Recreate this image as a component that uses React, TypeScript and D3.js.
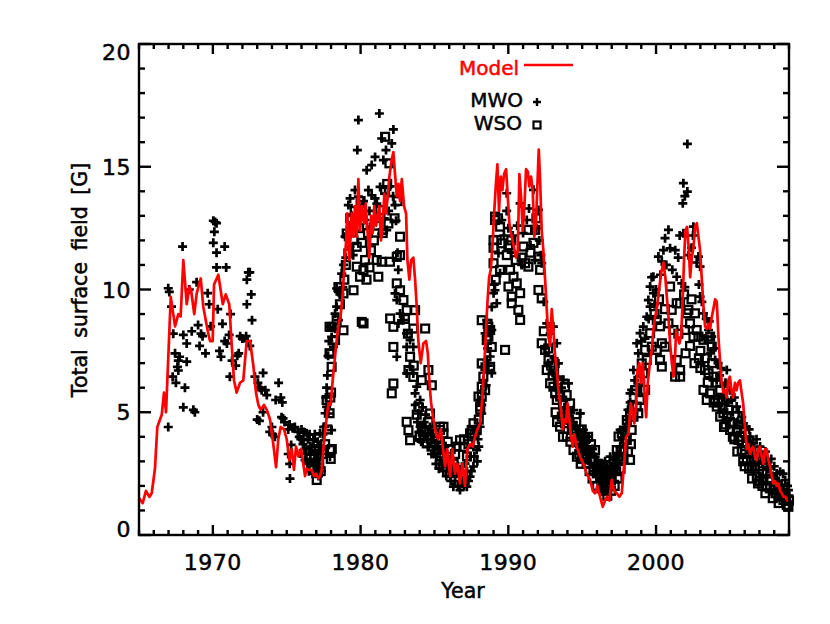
import React from "react";
import * as d3 from "d3";

const xDomain: [number, number] = [1965, 2009];
const yDomain: [number, number] = [0, 20];
const xMajorTicks = [1970, 1980, 1990, 2000];
const yMajorTicks = [0, 5, 10, 15, 20];
const xLabel = "Year";
const yLabel = "Total surface field [G]";
const legendLabels = ["Model", "MWO", "WSO"];

const modelYear = [
  1965.0, 1965.25, 1965.47, 1965.7, 1965.86, 1966.08, 1966.24, 1966.54, 1966.69, 1966.83,
  1967.15, 1967.44, 1967.66, 1967.82, 1968.0, 1968.23, 1968.41, 1968.52, 1968.74, 1968.91,
  1969.18, 1969.35, 1969.69, 1969.81, 1969.99, 1970.08, 1970.37, 1970.67, 1970.87, 1971.11,
  1971.28, 1971.43, 1971.61, 1971.84, 1972.06, 1972.29, 1972.52, 1972.74, 1972.92, 1973.08,
  1973.24, 1973.46, 1973.65, 1973.87, 1974.09, 1974.28, 1974.43, 1974.59, 1974.82, 1975.0,
  1975.18, 1975.34, 1975.49, 1975.63, 1975.79, 1975.97, 1976.12, 1976.24, 1976.35, 1976.53,
  1976.69, 1976.85, 1976.98, 1977.14, 1977.25, 1977.37, 1977.48, 1977.66, 1977.82, 1977.98,
  1978.11, 1978.34, 1978.49, 1978.66, 1978.79, 1978.9, 1979.01, 1979.1, 1979.24, 1979.4,
  1979.51, 1979.62, 1979.74, 1979.85, 1979.96, 1980.1, 1980.23, 1980.35, 1980.48, 1980.59,
  1980.71, 1980.82, 1980.93, 1981.05, 1981.16, 1981.27, 1981.38, 1981.5, 1981.61, 1981.72,
  1981.84, 1981.95, 1982.11, 1982.22, 1982.33, 1982.45, 1982.56, 1982.67, 1982.79, 1982.94,
  1983.08, 1983.17, 1983.3, 1983.42, 1983.57, 1983.69, 1983.8, 1983.91, 1984.07, 1984.25,
  1984.43, 1984.55, 1984.65, 1984.77, 1984.93, 1985.11, 1985.26, 1985.43, 1985.56, 1985.72,
  1985.87, 1986.06, 1986.21, 1986.39, 1986.55, 1986.73, 1986.89, 1987.07, 1987.23, 1987.41,
  1987.59, 1987.75, 1987.91, 1988.09, 1988.24, 1988.38, 1988.49, 1988.58, 1988.7, 1988.81,
  1988.92, 1989.04, 1989.15, 1989.26, 1989.37, 1989.49, 1989.6, 1989.71, 1989.85, 1989.96,
  1990.07, 1990.23, 1990.39, 1990.52, 1990.64, 1990.75, 1990.86, 1990.98, 1991.09, 1991.2,
  1991.32, 1991.42, 1991.54, 1991.65, 1991.76, 1991.88, 1991.97, 1992.06, 1992.15, 1992.26,
  1992.37, 1992.49, 1992.6, 1992.71, 1992.83, 1992.94, 1993.05, 1993.17, 1993.28, 1993.39,
  1993.55, 1993.69, 1993.79, 1993.91, 1994.02, 1994.13, 1994.25, 1994.36, 1994.47, 1994.63,
  1994.86, 1995.08, 1995.31, 1995.54, 1995.72, 1995.87, 1996.03, 1996.21, 1996.39, 1996.55,
  1996.67, 1996.84, 1997.0, 1997.16, 1997.34, 1997.52, 1997.68, 1997.84, 1997.97, 1998.13,
  1998.29, 1998.43, 1998.53, 1998.65, 1998.74, 1998.87, 1998.97, 1999.1, 1999.21, 1999.33,
  1999.44, 1999.6, 1999.71, 1999.82, 1999.94, 2000.05, 2000.21, 2000.34, 2000.5, 2000.63,
  2000.73, 2000.84, 2000.95, 2001.07, 2001.18, 2001.29, 2001.36, 2001.45, 2001.58, 2001.7,
  2001.81, 2001.9, 2001.99, 2002.1, 2002.22, 2002.31, 2002.42, 2002.53, 2002.64, 2002.76,
  2002.87, 2002.98, 2003.1, 2003.2, 2003.32, 2003.43, 2003.55, 2003.66, 2003.78, 2003.88,
  2004.0, 2004.11, 2004.22, 2004.34, 2004.45, 2004.56, 2004.67, 2004.78, 2004.89, 2005.0,
  2005.12, 2005.22, 2005.34, 2005.45, 2005.56, 2005.68, 2005.79, 2005.9, 2006.02, 2006.14,
  2006.25, 2006.36, 2006.47, 2006.58, 2006.7, 2006.81, 2006.92, 2007.04, 2007.15, 2007.26,
  2007.38, 2007.49, 2007.6, 2007.72, 2007.83, 2007.94, 2008.06, 2008.17, 2008.28, 2008.4,
  2008.51, 2008.62, 2008.74, 2008.89, 2009.0,
];
const modelField = [
  1.5, 1.3, 1.8, 1.55, 1.7, 2.7, 4.4, 4.9, 5.8, 5.0,
  9.7, 8.5, 9.0, 8.9, 11.2, 9.4, 10.1, 10.0, 9.0, 9.85,
  10.45, 9.3, 8.2, 7.9, 7.9, 10.2, 10.6, 9.4, 9.8, 9.4,
  7.7, 6.3, 5.8, 6.2, 6.3, 7.9, 7.9, 6.9, 5.8, 5.3,
  5.1, 5.3, 5.1, 4.7, 3.7, 2.76, 3.9, 4.4, 4.3, 3.9,
  3.05, 3.5, 2.65, 3.6, 3.2, 3.5, 2.9, 2.4, 2.7, 2.65,
  2.65, 2.4, 2.5, 2.3, 2.4, 2.65, 3.5, 4.55, 5.36, 5.3,
  6.3, 7.7, 8.5, 9.0, 9.85, 10.9, 11.9, 13.1, 11.2, 13.1,
  12.15, 13.4, 12.15, 14.5, 12.4, 13.4, 12.7, 13.5, 12.3, 11.3,
  13.0, 12.3, 13.4, 12.6, 13.0, 13.4, 12.0, 12.8, 13.9, 13.1,
  13.8, 14.6, 15.3, 15.6, 14.7, 13.8, 14.3, 13.6, 14.5, 13.4,
  13.1, 11.2, 10.4, 11.2, 11.3, 10.4, 9.3, 7.9, 7.0, 7.8,
  7.9, 7.4, 6.3, 5.4, 4.7, 4.1, 3.9, 4.3, 3.6, 2.8,
  3.5, 2.4, 3.5, 2.5, 2.9, 2.1, 2.9, 2.0, 3.5, 3.7,
  3.6, 4.0, 4.3, 4.55, 5.6, 7.0, 8.35, 9.4, 10.5, 10.8,
  11.7, 13.1, 14.2, 15.1, 13.2, 14.6, 14.05, 14.7, 14.9, 13.8,
  12.7, 12.15, 11.7, 11.3, 11.6, 14.7, 13.8, 12.4, 13.4, 14.9,
  14.8, 14.2, 14.6, 14.05, 12.15, 12.8, 14.3, 15.7, 14.5, 12.4,
  11.6, 10.4, 9.2, 8.1, 7.7, 9.2, 8.35, 7.3, 6.7, 5.9,
  5.2, 4.3, 4.7, 4.6, 5.36, 4.7, 4.0, 3.6, 4.1, 3.6,
  3.2, 2.9, 2.5, 2.24, 1.8, 1.7, 2.0, 1.56, 1.15, 1.4,
  1.56, 1.4, 2.24, 1.8, 1.7, 1.56, 1.7, 2.9, 4.0, 4.1,
  5.36, 4.96, 4.55, 5.36, 6.7, 7.0, 6.2, 7.0, 5.9, 4.8,
  6.2, 7.1, 7.5, 8.35, 8.9, 9.2, 10.0, 10.65, 11.1, 10.5,
  9.7, 8.9, 7.8, 7.0, 6.45, 7.3, 8.35, 8.1, 7.8, 8.1,
  9.7, 11.3, 12.4, 12.55, 11.6, 10.5, 11.3, 11.7, 12.55, 12.7,
  12.15, 11.6, 10.4, 9.4, 8.5, 8.4, 8.6, 8.4, 8.9, 9.2,
  9.6, 9.5, 8.1, 7.0, 6.2, 5.8, 5.9, 5.6, 6.3, 6.45,
  5.8, 5.6, 6.2, 5.9, 6.2, 6.3, 5.8, 5.36, 4.4, 3.5,
  3.7, 3.3, 3.5, 3.6, 3.2, 3.05, 3.5, 3.6, 3.2, 2.9,
  3.5, 3.5, 3.05, 2.8, 2.4, 2.1, 2.2, 2.0, 2.1, 1.8,
  1.7, 1.56, 1.56, 1.4, 1.56,
];

const mwo: [number, number][] = [
  [1966.98, 10.05], [1967.05, 9.9], [1967.2, 9.3], [1966.98, 4.4], [1967.28, 6.45], [1967.32, 8.2],
  [1967.44, 7.4], [1967.66, 7.1], [1967.6, 6.85], [1967.75, 7.26], [1967.66, 6.7], [1967.5, 6.2],
  [1967.95, 11.75], [1968.0, 8.15], [1968.23, 7.8], [1968.11, 6.0], [1968.0, 5.2], [1968.23, 7.06],
  [1968.57, 8.3], [1968.68, 5.1], [1968.78, 5.0], [1968.4, 10.0], [1968.9, 10.3], [1969.0, 8.55],
  [1969.1, 7.7], [1969.2, 8.2], [1969.3, 8.1], [1969.5, 7.4], [1969.65, 9.85], [1969.75, 9.4],
  [1969.85, 8.5], [1970.03, 12.8], [1970.15, 12.75], [1970.25, 12.7], [1970.1, 12.35], [1970.03, 11.9],
  [1970.25, 11.5], [1970.8, 11.75], [1970.9, 10.9], [1970.25, 10.9], [1970.33, 9.2], [1970.45, 7.5],
  [1970.55, 7.26], [1970.65, 8.6], [1970.8, 7.9], [1970.95, 7.8], [1971.1, 8.15], [1971.2, 9.0],
  [1971.15, 6.45], [1971.3, 7.1], [1971.55, 6.9], [1971.65, 7.3], [1971.75, 7.4], [1971.85, 8.1],
  [1972.0, 8.0], [1972.25, 8.1], [1972.4, 10.7], [1972.5, 10.7], [1972.3, 10.4], [1972.6, 9.8],
  [1972.3, 9.4], [1972.65, 8.75], [1972.35, 7.9], [1972.5, 7.7],
  [1972.85, 6.45], [1973.05, 6.2], [1973.2, 6.0], [1973.4, 6.6], [1973.3, 5.9], [1973.55, 5.9],
  [1973.65, 5.7], [1973.0, 4.7], [1973.15, 4.65], [1973.4, 5.0], [1974.0, 4.4], [1974.25, 5.5],
  [1974.45, 6.2], [1974.6, 5.6], [1974.7, 5.4], [1974.2, 4.0], [1974.75, 4.75], [1974.65, 4.8],
  [1974.85, 4.6], [1973.85, 4.2], [1974.05, 4.1], [1975.1, 4.3], [1975.2, 4.5], [1975.4, 4.35],
  [1975.55, 4.4], [1975.75, 4.2], [1975.85, 4.0], [1975.3, 3.67], [1975.1, 3.3], [1975.2, 2.9],
  [1975.22, 2.3], [1976.1, 3.7], [1976.2, 3.5], [1976.3, 3.3], [1976.6, 3.6], [1976.7, 3.4],
  [1976.8, 3.9], [1976.9, 3.0], [1977.0, 3.3], [1977.1, 3.1], [1977.25, 3.6], [1977.45, 4.1],
  [1977.5, 4.4], [1977.6, 4.96],
  [1976.4, 2.9], [1976.5, 2.6], [1976.6, 3.1], [1976.75, 2.5], [1976.85, 2.8], [1976.95, 2.5],
  [1977.05, 2.7], [1977.15, 2.4], [1977.2, 2.9], [1977.3, 3.3], [1977.35, 2.6], [1976.45, 3.9],
  [1976.55, 4.1], [1976.0, 4.3], [1976.15, 4.2], [1975.95, 3.9], [1976.9, 4.1], [1977.1, 3.8],
  [1977.4, 3.5], [1977.25, 4.14], [1977.59, 4.41], [1977.7, 5.22], [1977.82, 4.95], [1978.04, 4.27],
  [1976.8, 3.86], [1976.35, 4.14], [1976.13, 3.86], [1976.58, 3.59], [1976.92, 3.46], [1975.9, 3.32],
  [1976.24, 3.05], [1977.03, 3.05], [1977.93, 3.19],
  [1979.85, 16.9], [1981.27, 17.17], [1979.78, 15.68], [1982.22, 16.52], [1981.43, 16.15], [1982.11, 15.95],
  [1981.72, 15.68], [1980.98, 15.4], [1980.75, 15.07], [1980.41, 14.86], [1981.54, 15.27], [1979.62, 14.05],
  [1979.29, 13.71], [1979.17, 13.44], [1980.53, 14.05], [1980.75, 13.84], [1980.98, 13.71], [1981.32, 14.18],
  [1981.66, 13.91], [1982.33, 13.44], [1979.85, 13.78], [1980.08, 13.37], [1979.62, 12.83], [1979.29, 12.55],
  [1978.95, 12.15], [1980.3, 12.83], [1980.64, 12.55], [1981.43, 12.28], [1981.77, 12.42], [1979.29, 11.74],
  [1979.5, 11.4], [1978.72, 10.65], [1978.38, 10.04], [1978.6, 9.8], [1978.8, 10.1], [1978.38, 9.3],
  [1978.27, 9.02], [1978.5, 8.75], [1977.93, 8.48], [1978.04, 8.07], [1978.16, 7.66], [1978.27, 8.4],
  [1982.45, 9.57], [1982.33, 9.84], [1982.67, 9.02], [1982.56, 8.62], [1982.9, 8.75], [1983.12, 8.21],
  [1983.35, 7.94], [1983.12, 7.66], [1983.57, 7.66], [1982.45, 7.26], [1983.35, 6.85], [1983.57, 6.58],
  [1983.12, 6.58], [1983.8, 6.04], [1983.69, 5.77], [1984.03, 5.5], [1983.91, 4.95], [1984.03, 4.41],
  [1983.95, 4.2], [1979.4, 13.0], [1979.7, 12.4], [1980.0, 12.9], [1980.2, 13.6], [1980.6, 13.2],
  [1981.0, 12.9], [1981.1, 13.5], [1981.6, 12.9], [1981.9, 13.2], [1982.0, 14.2], [1982.2, 13.8],
  [1982.4, 12.8], [1982.5, 11.5], [1982.55, 10.8], [1979.0, 11.3], [1978.85, 11.0], [1978.5, 9.9],
  [1977.85, 7.9], [1977.8, 7.3], [1977.75, 6.5], [1977.7, 6.0], [1977.65, 5.6],
  [1983.7, 5.3], [1983.85, 4.6], [1984.0, 3.9], [1984.15, 4.4], [1984.35, 4.1], [1984.6, 3.6],
  [1984.8, 3.3], [1985.1, 2.9], [1985.3, 2.7], [1985.6, 2.6], [1985.8, 2.4], [1986.1, 2.2],
  [1986.4, 2.6], [1986.6, 2.0], [1986.8, 2.6], [1987.0, 2.0], [1987.3, 2.2], [1987.5, 2.6],
  [1987.7, 3.2], [1987.9, 3.0], [1988.0, 3.6],
  [1984.59, 4.14], [1984.82, 3.86], [1985.04, 3.59], [1985.15, 3.19], [1985.38, 3.05], [1985.61, 3.32],
  [1985.83, 2.78], [1986.06, 2.91], [1986.28, 2.5], [1986.51, 2.64], [1986.73, 2.37], [1987.07, 2.91],
  [1987.2, 2.6], [1987.41, 3.19], [1987.64, 3.59], [1987.86, 4.14], [1988.09, 4.41], [1988.2, 4.95],
  [1988.09, 5.5], [1988.31, 6.31], [1988.2, 6.85], [1988.54, 7.12], [1988.43, 8.21], [1988.54, 8.75],
  [1988.88, 9.29], [1989.1, 9.97], [1989.05, 10.2], [1986.28, 1.97], [1986.73, 1.83], [1987.19, 1.97],
  [1986.06, 2.38], [1986.51, 2.51], [1985.83, 2.92], [1987.0, 2.3], [1987.41, 2.38], [1987.64, 2.79],
  [1987.86, 3.46], [1987.95, 3.9], [1988.2, 5.3], [1988.5, 6.1], [1988.77, 7.27], [1988.88, 6.59],
  [1988.65, 6.9], [1988.6, 7.6], [1988.88, 8.35], [1984.3, 4.6], [1984.4, 4.9], [1984.5, 3.9],
  [1984.7, 4.4], [1984.9, 4.1], [1985.0, 3.3], [1985.2, 3.8], [1985.3, 3.5], [1985.5, 2.9],
  [1985.7, 3.6], [1985.9, 3.2], [1986.0, 2.6], [1986.2, 2.9], [1986.4, 2.2], [1986.6, 2.8],
  [1986.9, 2.1], [1984.2, 5.2], [1984.1, 3.8],
  [1989.89, 13.92], [1990.8, 13.51], [1991.7, 14.06], [1992.04, 13.24], [1991.25, 12.83], [1989.56, 12.83],
  [1989.89, 13.2], [1992.26, 11.07], [1992.2, 11.4], [1989.33, 11.48], [1989.44, 10.66], [1989.0, 9.85],
  [1989.22, 9.44], [1990.0, 12.5], [1990.3, 12.2], [1990.6, 12.6], [1991.0, 12.3], [1991.4, 13.3],
  [1991.9, 12.5], [1992.1, 12.0], [1989.7, 12.2], [1990.2, 11.5], [1991.5, 11.8], [1990.9, 11.0],
  [1991.8, 11.2],
  [1992.6, 8.62], [1993.05, 8.49], [1992.83, 8.2], [1993.28, 7.81], [1993.39, 6.99], [1993.73, 6.32],
  [1994.07, 6.18], [1994.41, 5.09], [1994.86, 4.96], [1994.2, 4.55], [1995.08, 4.28], [1994.7, 4.01],
  [1995.42, 4.01], [1995.53, 3.46], [1995.88, 3.19], [1996.21, 2.92], [1996.44, 2.65], [1996.67, 2.8],
  [1997.12, 3.06], [1997.46, 3.27], [1997.57, 4.28], [1992.4, 9.5], [1992.5, 7.6], [1992.7, 7.0],
  [1993.0, 6.6], [1993.2, 6.0], [1993.5, 5.5], [1993.8, 5.2], [1994.0, 4.8], [1994.3, 4.3],
  [1994.5, 3.9], [1994.9, 3.7], [1995.2, 3.5], [1995.6, 2.9], [1995.8, 2.6], [1996.0, 2.5],
  [1996.3, 2.3], [1996.6, 2.1], [1996.9, 2.4], [1997.3, 2.7], [1994.86, 4.95], [1998.24, 5.77],
  [1996.89, 3.19], [1996.55, 3.0],
  [1993.1, 7.2], [1993.3, 6.4], [1993.6, 6.0], [1993.9, 5.5], [1994.2, 5.0], [1994.4, 4.6],
  [1994.6, 4.4], [1994.8, 4.2], [1995.0, 3.9], [1995.3, 3.8], [1995.5, 3.2], [1995.7, 3.5],
  [1995.9, 2.8], [1996.1, 2.7], [1996.3, 2.0], [1996.5, 1.8], [1996.7, 2.3], [1997.0, 2.8],
  [1997.2, 2.2],
  [2002.12, 15.93], [2001.85, 14.33], [2002.12, 13.99], [2001.95, 13.8], [2001.81, 13.51], [2000.84, 12.43],
  [2000.61, 12.09], [2000.95, 11.68], [2000.16, 11.34], [2000.39, 11.14], [1999.82, 10.52], [1999.6, 10.12],
  [1999.7, 10.5], [1999.82, 9.85], [1999.48, 9.57], [1999.6, 9.3], [1999.37, 8.89], [1999.14, 8.49],
  [1998.92, 8.22], [1998.69, 7.81], [1998.47, 6.72], [1998.35, 5.91], [1998.02, 4.69], [1997.79, 4.28],
  [1997.57, 3.6], [1997.23, 2.92], [1996.66, 2.65], [1996.44, 2.24], [1996.9, 2.2], [2001.4, 10.52],
  [2001.74, 10.25], [2001.5, 11.3], [2001.95, 10.1], [2001.85, 12.29], [2001.6, 12.2], [2002.5, 12.2],
  [2002.4, 11.7], [2002.87, 11.34], [2002.98, 10.93], [2002.53, 12.56], [2002.75, 11.1], [2002.98, 9.71],
  [2003.21, 9.03], [2003.55, 8.35], [2003.77, 8.08], [2004.0, 7.13], [2004.79, 6.72], [2004.56, 6.05],
  [2005.13, 5.5], [2005.46, 5.23], [2005.91, 4.55], [2006.37, 4.01], [2006.59, 3.73], [2007.04, 3.6],
  [2007.27, 3.2], [2007.5, 3.06], [2007.72, 2.8], [2008.17, 2.51], [2008.4, 2.58], [2008.74, 2.24],
  [2008.96, 1.83], [1997.0, 2.5], [1997.4, 3.3], [1997.7, 3.9], [1997.9, 4.4], [1998.1, 5.1],
  [1998.25, 5.4], [1998.55, 6.3], [1998.8, 7.4], [1999.0, 7.9], [1999.25, 8.0], [1999.5, 8.8],
  [1999.9, 9.4], [2000.0, 10.0], [2000.3, 10.6], [2000.5, 11.6], [2000.7, 11.0], [2001.1, 10.8],
  [2001.3, 11.6], [2002.2, 11.4], [2002.9, 10.2], [2003.1, 9.5], [2003.4, 8.8], [2003.6, 8.7],
  [2003.9, 7.6], [2004.2, 7.0], [2004.4, 6.8], [2004.7, 6.2], [2005.0, 5.9], [2005.3, 5.6],
  [2005.6, 5.0], [2005.8, 4.8], [2006.1, 4.4], [2006.3, 4.3], [2006.8, 3.9], [2007.1, 3.3],
  [2007.4, 3.4], [2007.8, 3.1], [2008.0, 2.8], [2008.3, 2.2], [2008.6, 2.5], [2008.9, 2.0],
  [2003.3, 8.0], [2003.7, 7.4], [2004.1, 6.3], [2004.3, 6.5], [2004.6, 5.6], [2004.9, 5.4],
  [2005.2, 5.0], [2005.5, 4.6], [2005.7, 4.2], [2006.0, 4.0], [2006.2, 3.8], [2006.5, 3.5],
  [2006.7, 3.3], [2006.9, 3.0], [2007.2, 2.9], [2007.6, 2.7], [2007.9, 2.4], [2008.1, 2.3],
  [2008.5, 2.0], [2008.8, 1.7], [2009.0, 1.6],
];

const wso: [number, number][] = [
  [1976.6, 3.1], [1976.8, 2.7], [1977.03, 2.24], [1977.2, 2.9], [1977.4, 3.3], [1977.6, 3.7],
  [1977.75, 4.3], [1977.7, 5.5], [1977.93, 3.46], [1978.05, 3.5], [1977.98, 3.1], [1977.9, 4.96],
  [1977.95, 5.6], [1978.0, 5.8], [1977.93, 7.39], [1978.04, 6.85], [1977.9, 8.48], [1977.9, 7.4],
  [1978.38, 8.75], [1978.04, 8.48], [1978.84, 8.34], [1978.27, 7.94], [1976.9, 3.5], [1977.3, 2.6],
  [1981.66, 16.22], [1981.95, 15.14], [1981.66, 14.05], [1981.32, 13.23], [1981.88, 12.69], [1982.67, 12.15],
  [1979.06, 12.28], [1979.52, 12.01], [1979.74, 11.74], [1979.17, 11.47], [1980.3, 11.2], [1979.74, 10.93],
  [1980.19, 10.79], [1981.09, 11.2], [1981.43, 11.13], [1981.99, 11.13], [1982.45, 11.33], [1982.67, 11.4],
  [1981.2, 10.52], [1979.52, 9.97], [1978.84, 9.84], [1982.45, 10.25], [1982.67, 9.97], [1982.9, 9.57],
  [1979.96, 10.52], [1980.08, 8.68], [1980.2, 8.62], [1982.0, 8.82], [1982.22, 8.48], [1983.12, 9.16],
  [1983.0, 8.8], [1983.57, 8.41], [1983.69, 9.16], [1983.2, 8.2], [1984.37, 8.41], [1982.22, 7.66],
  [1983.35, 7.26], [1983.24, 6.72], [1983.57, 6.44], [1983.6, 6.9], [1984.59, 6.72], [1982.22, 6.17],
  [1982.11, 5.77], [1984.14, 6.31], [1984.82, 6.1], [1984.7, 4.95], [1983.91, 5.22], [1984.14, 4.41],
  [1983.12, 4.61], [1983.24, 4.27], [1983.35, 3.86], [1979.3, 12.9], [1979.6, 13.2], [1979.9, 12.5],
  [1980.1, 11.9], [1980.5, 12.3], [1980.7, 11.6], [1980.9, 12.0], [1981.1, 12.6], [1981.5, 12.3],
  [1980.4, 10.4], [1980.6, 10.9], [1979.0, 11.0], [1978.9, 10.4], [1978.6, 9.4], [1978.5, 10.1],
  [1982.3, 12.9], [1982.5, 13.6], [1981.8, 14.3], [1980.0, 13.6],
  [1983.8, 4.9], [1984.0, 4.0], [1984.3, 4.2], [1984.6, 4.6], [1984.8, 3.6], [1985.2, 3.9],
  [1985.5, 3.6], [1986.5, 3.6], [1987.0, 3.9], [1987.3, 3.7], [1987.7, 4.1], [1988.0, 4.7],
  [1985.04, 4.14], [1984.48, 3.73], [1985.38, 4.41], [1985.61, 4.14], [1985.15, 3.46], [1985.4, 3.2],
  [1986.73, 3.86], [1986.96, 3.59], [1987.41, 4.14], [1987.64, 4.55], [1987.86, 4.27], [1988.2, 5.63],
  [1988.1, 5.1], [1988.43, 5.9], [1988.77, 6.85], [1988.88, 7.66], [1988.54, 7.94], [1988.65, 8.48],
  [1988.2, 8.75], [1989.0, 12.01], [1989.1, 12.83], [1985.61, 4.41], [1985.38, 4.28], [1986.1, 3.5],
  [1986.4, 3.3], [1987.52, 4.28], [1987.98, 5.64], [1988.09, 5.23], [1988.2, 6.04], [1988.31, 6.45],
  [1988.2, 6.99], [1988.65, 8.08], [1988.77, 8.35], [1988.6, 8.6], [1985.9, 3.8], [1986.3, 2.9],
  [1985.7, 3.0], [1987.2, 3.2],
  [1989.1, 12.97], [1989.44, 12.56], [1989.22, 12.02], [1989.56, 11.88], [1989.0, 11.07], [1989.44, 10.8],
  [1990.12, 10.8], [1990.35, 10.52], [1990.01, 10.12], [1990.57, 10.25], [1990.8, 9.85], [1990.23, 9.71],
  [1990.23, 9.44], [1990.68, 9.17], [1990.8, 8.76], [1989.78, 7.54], [1991.02, 11.75], [1991.14, 11.07],
  [1991.36, 10.93], [1991.36, 12.43], [1991.81, 12.43], [1991.7, 11.9], [1992.04, 11.34], [1992.15, 10.8],
  [1992.04, 9.98], [1992.26, 9.64], [1990.9, 11.3], [1989.9, 11.4], [1990.2, 12.0], [1990.5, 11.2],
  [1991.5, 11.5], [1989.3, 12.9], [1991.9, 12.9], [1989.0, 11.7], [1989.15, 10.4], [1990.0, 11.8],
  [1992.26, 7.81], [1992.49, 7.54], [1992.72, 7.13], [1992.6, 6.72], [1992.9, 6.9], [1992.83, 6.18],
  [1993.0, 6.5], [1993.17, 5.77], [1993.51, 5.64], [1993.84, 6.04], [1993.95, 5.7], [1993.62, 4.82],
  [1993.84, 4.55], [1993.96, 4.01], [1994.3, 4.28], [1994.52, 4.01], [1994.64, 3.19], [1994.86, 3.73],
  [1994.97, 4.3], [1995.31, 3.46], [1995.65, 3.06], [1995.76, 2.65], [1995.99, 2.51], [1996.21, 2.38],
  [1996.44, 2.24], [1996.67, 2.38], [1996.89, 2.51], [1997.12, 2.92], [1997.34, 3.46], [1997.46, 4.01],
  [1993.05, 6.04], [1993.28, 5.5], [1993.2, 5.0], [1993.5, 4.41], [1993.7, 4.0], [1994.18, 5.36],
  [1994.1, 4.7], [1994.41, 3.46], [1994.86, 4.14], [1995.08, 3.59], [1995.0, 3.1], [1995.54, 3.32],
  [1995.87, 3.46], [1995.99, 2.78], [1996.21, 2.37], [1996.44, 1.96], [1996.67, 2.1], [1996.89, 2.24],
  [1997.12, 2.78], [1997.45, 3.19], [1997.68, 4.14], [1997.9, 3.9], [1998.02, 4.68], [1998.24, 4.95],
  [1998.4, 5.3], [1998.58, 5.9], [1998.9, 5.5], [1995.3, 2.9], [1995.5, 2.6], [1995.7, 2.3],
  [1996.0, 2.0], [1996.3, 1.9], [1996.6, 1.8], [1996.8, 2.0], [1997.0, 2.3], [1997.3, 2.6],
  [1997.6, 3.4], [1995.2, 3.9], [1994.8, 3.3],
  [1992.4, 8.3], [1992.7, 7.6], [1993.1, 6.7], [1993.4, 6.3], [1993.3, 4.6], [1993.7, 5.3],
  [1994.0, 5.0], [1994.2, 3.8], [1994.6, 4.6], [1994.9, 2.9], [1995.1, 3.3], [1995.4, 4.0],
  [1995.6, 3.7], [1995.8, 3.0], [1996.1, 2.9], [1996.3, 2.6], [1996.5, 2.6], [1996.7, 1.6],
  [1996.95, 1.8], [1997.2, 2.0], [1997.4, 2.3], [1997.6, 2.7], [1997.8, 3.1], [1998.1, 3.4],
  [1998.3, 3.7],
  [2000.95, 10.12], [2001.06, 9.17], [2001.4, 9.44], [2001.63, 9.44], [2000.84, 8.62], [2001.18, 8.35],
  [2001.51, 8.2], [2000.05, 8.76], [2000.27, 8.5], [2000.39, 7.81], [2000.61, 7.67], [2000.05, 7.54],
  [2000.27, 7.13], [2000.39, 6.86], [2001.4, 7.13], [2001.63, 6.72], [2001.63, 6.45], [2001.29, 6.45],
  [1999.6, 8.22], [1999.71, 7.67], [1999.26, 7.54], [1999.37, 7.13], [1999.03, 6.99], [1999.14, 6.59],
  [1998.92, 6.32], [1999.26, 5.91], [1998.69, 5.23], [1998.8, 4.96], [1998.47, 4.82], [1998.35, 4.28],
  [1998.02, 3.87], [1997.79, 3.46], [1998.24, 3.06], [1997.57, 3.06], [1997.12, 2.65], [1996.66, 2.24],
  [1996.44, 1.97], [2002.08, 9.03], [2002.19, 9.17], [2002.64, 9.03], [2002.3, 8.62], [2002.53, 8.08],
  [2002.75, 8.35], [2002.87, 8.08], [2003.21, 7.95], [2003.66, 8.08], [2003.77, 7.67], [2001.96, 8.35],
  [2003.32, 6.72], [2003.55, 6.59], [2003.89, 6.45], [2003.21, 5.91], [2003.66, 5.77], [2004.34, 5.91],
  [2003.43, 5.5], [2004.11, 5.23], [2004.56, 4.96], [2004.34, 4.82], [2004.79, 4.82], [2005.24, 4.55],
  [2005.46, 4.28], [2005.01, 4.28], [2005.58, 3.87], [2005.8, 3.46], [2006.14, 3.73], [2006.14, 3.06],
  [2006.48, 2.78], [2006.82, 3.19], [2006.82, 2.38], [2007.27, 2.24], [2007.5, 1.97], [2007.95, 1.83],
  [2008.29, 1.56], [2008.62, 1.43], [2008.85, 1.22], [2008.96, 1.15], [2000.6, 9.2], [2000.2, 9.6],
  [1999.9, 9.0], [2001.9, 9.8], [2002.4, 9.6], [2002.9, 7.2], [2003.0, 6.8], [2004.0, 5.5],
  [2004.5, 5.5], [2004.9, 5.1], [2005.2, 4.0], [2005.6, 4.5], [2006.0, 3.3], [2006.4, 3.5],
  [2006.6, 3.0], [2007.0, 2.8], [2007.2, 2.6], [2007.7, 2.3], [2008.0, 2.0], [2008.4, 1.9],
  [2008.7, 1.7], [2009.0, 1.4], [2007.5, 2.5], [2006.9, 2.1], [2005.9, 3.0], [2004.6, 4.4],
  [2003.9, 5.4], [2003.5, 6.2],
  [2002.0, 7.4], [2002.3, 7.7], [2002.6, 7.0], [2003.0, 7.5], [2003.3, 7.2], [2003.8, 7.0],
  [2004.1, 6.2], [2004.2, 5.4], [2004.5, 5.2], [2004.7, 4.5], [2005.0, 4.6], [2005.3, 3.9],
  [2005.5, 3.4], [2005.7, 4.0], [2006.0, 2.8], [2006.3, 2.7], [2006.5, 2.3], [2006.7, 2.8],
  [2007.0, 2.2], [2007.2, 2.0], [2007.4, 1.7], [2007.7, 1.9], [2007.9, 1.5], [2008.1, 1.7],
  [2008.3, 1.3], [2008.5, 1.6], [2008.8, 1.4],
];

const W = 830;
const H = 624;
const left = 139;
const right = 789;
const top = 44;
const bottom = 535;
const FONT = "'DejaVu Sans', sans-serif";

export default function App() {
  const x = d3.scaleLinear().domain(xDomain).range([left, right]);
  const y = d3.scaleLinear().domain(yDomain).range([bottom, top]);

  const modelPts: [number, number][] = modelYear.map((yr, i) => [yr, modelField[i]]);
  const line = d3
    .line<[number, number]>()
    .x((d) => x(d[0]))
    .y((d) => y(d[1]));

  const xMinor = d3.range(xDomain[0], xDomain[1] + 1, 1).filter((v) => !xMajorTicks.includes(v));
  const yMinor = d3.range(yDomain[0], yDomain[1] + 1, 1).filter((v) => v % 5 !== 0);

  const sw = 2.4;
  const yLabelOffset = (v: number) => (v === 20 ? 16 : v === 0 ? 2 : 8);
  const ps = 4.5;
  const sq = 7.8;

  return (
    <svg
      width={W}
      height={H}
      style={{ position: "absolute", left: 0, top: 0, background: "#fff" }}
      fontFamily={FONT}
    >
      <rect x={0} y={0} width={W} height={H} fill="#fff" />
      {/* WSO squares */}
      <g fill="none" stroke="#000" strokeWidth={2.3}>
        {wso.map((d, i) => (
          <rect key={i} x={x(d[0]) - sq / 2} y={y(d[1]) - sq / 2} width={sq} height={sq} />
        ))}
      </g>
      {/* MWO pluses */}
      <g stroke="#000" strokeWidth={2.7}>
        {mwo.map((d, i) => {
          const cx = x(d[0]);
          const cy = y(d[1]);
          return <path key={i} d={`M${cx - ps},${cy}H${cx + ps}M${cx},${cy - ps}V${cy + ps}`} />;
        })}
      </g>
      {/* Model line */}
      <path d={line(modelPts) || ""} fill="none" stroke="#ff0000" strokeWidth={2.7} strokeLinejoin="round" />

      {/* Frame */}
      <rect x={left} y={top} width={right - left} height={bottom - top} fill="none" stroke="#000" strokeWidth={sw} />
      <g stroke="#000" strokeWidth={sw}>
        {xMajorTicks.map((t) => (
          <g key={"xM" + t}>
            <line x1={x(t)} x2={x(t)} y1={bottom} y2={bottom - 10} />
            <line x1={x(t)} x2={x(t)} y1={top} y2={top + 10} />
          </g>
        ))}
        {xMinor.map((t) => (
          <g key={"xm" + t}>
            <line x1={x(t)} x2={x(t)} y1={bottom} y2={bottom - 5} />
            <line x1={x(t)} x2={x(t)} y1={top} y2={top + 5} />
          </g>
        ))}
        {yMajorTicks.map((t) => (
          <g key={"yM" + t}>
            <line x1={left} x2={left + 12} y1={y(t)} y2={y(t)} />
            <line x1={right} x2={right - 12} y1={y(t)} y2={y(t)} />
          </g>
        ))}
        {yMinor.map((t) => (
          <g key={"ym" + t}>
            <line x1={left} x2={left + 6} y1={y(t)} y2={y(t)} />
            <line x1={right} x2={right - 6} y1={y(t)} y2={y(t)} />
          </g>
        ))}
      </g>

      {/* Tick labels */}
      <g fontSize={22} fill="#000" stroke="#000" strokeWidth={0.5} letterSpacing={0.5}>
        {xMajorTicks.map((t) => (
          <text key={"xl" + t} x={x(t)} y={570} textAnchor="middle">
            {t}
          </text>
        ))}
        {yMajorTicks.map((t) => (
          <text key={"yl" + t} x={131} y={y(t) + yLabelOffset(t)} textAnchor="end">
            {t}
          </text>
        ))}
      </g>

      {/* Axis titles */}
      <g stroke="#000" strokeWidth={0.5} fill="#000">
        <text x={463} y={598} textAnchor="middle" fontSize={20.5}>
          {xLabel}
        </text>
        <text transform={`translate(87,280) rotate(-90)`} textAnchor="middle" fontSize={20.5} wordSpacing={5}>
          {yLabel}
        </text>
      </g>

      {/* Legend */}
      <text x={519} y={75} textAnchor="end" fontSize={20} fill="#ff0000" stroke="#ff0000" strokeWidth={0.5}>
        {legendLabels[0]}
      </text>
      <line x1={524} x2={573} y1={65} y2={65} stroke="#ff0000" strokeWidth={2.7} />
      <text x={523} y={107} textAnchor="end" fontSize={20} fill="#000" stroke="#000" strokeWidth={0.5}>
        {legendLabels[1]}
      </text>
      <path d="M533,102H541M537,98V106" stroke="#000" strokeWidth={2.4} />
      <text x={522} y={130} textAnchor="end" fontSize={20} fill="#000" stroke="#000" strokeWidth={0.5}>
        {legendLabels[2]}
      </text>
      <rect x={533.5} y={121.5} width={7} height={7} fill="none" stroke="#000" strokeWidth={2.2} />
    </svg>
  );
}
